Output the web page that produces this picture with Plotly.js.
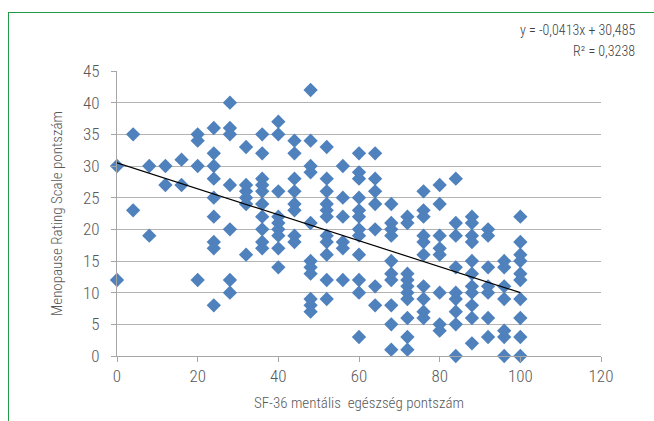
<!DOCTYPE html>
<html>
<head>
<meta charset="utf-8">
<script src="https://cdn.plot.ly/plotly-3.0.1.min.js"></script>
<style>
  html, body { margin: 0; padding: 0; background: #ffffff; }
  #wrap { position: relative; width: 654px; height: 421px; overflow: hidden; }
  #chart { position: absolute; left: 0; top: 0; width: 654px; height: 421px; }
  #frame { position: absolute; left: 8px; top: 12px; width: 700px; height: 500px;
           border-left: 1.5px solid #239a45; border-top: 1.5px solid #239a45; pointer-events: none; }
</style>
</head>
<body>
<div id="wrap">
  <div id="chart"></div>
  <div id="frame"></div>
</div>
<script>
// SF-36 mental health score columns (x) and Menopause Rating Scale scores (y) per column
const xLevels = [0, 4, 8, 12, 16, 20, 24, 28, 32, 36, 40, 44, 48, 52, 56, 60, 64, 68, 72, 76, 80, 84, 88, 92, 96, 100];
const mrsByLevel = [
  [30, 12],
  [35, 23],
  [30, 19],
  [30, 27],
  [31, 27],
  [35, 34, 30, 12],
  [36, 32, 30, 28, 25, 22, 18, 17, 8],
  [40, 36, 35, 27, 20, 12, 10],
  [33, 27, 26, 25, 24, 16],
  [35, 32, 28, 27, 26, 24, 22, 20, 18, 17],
  [37, 35, 26, 22, 21, 20, 19, 17, 14],
  [34, 32, 28, 26, 24, 23, 19, 18],
  [42, 34, 30, 29, 21, 15, 14, 13, 9, 8, 7],
  [33, 28, 26, 24, 23, 22, 19, 18, 16, 12, 9],
  [30, 25, 22, 18, 17, 12],
  [32, 29, 28, 25, 23, 22, 20, 19, 16, 12, 10, 3],
  [32, 28, 26, 24, 20, 11, 8],
  [24, 21, 20, 19, 15, 13, 12, 8, 5, 1],
  [22, 21, 13, 12, 11, 10, 9, 6, 3, 1],
  [26, 23, 22, 19, 18, 16, 11, 9, 7, 6],
  [27, 24, 19, 17, 16, 10, 5, 4],
  [28, 21, 19, 14, 10, 9, 7, 5, 0],
  [22, 21, 19, 18, 15, 13, 11, 10, 8, 6, 2],
  [20, 19, 14, 11, 10, 6, 3],
  [15, 14, 11, 9, 4, 3, 0],
  [22, 18, 16, 15, 13, 12, 9, 6, 3, 0]
];
// Trendline as drawn in the reference
const trendX = [0, 100];
const trendY = [30.5, 10];
const equationText = "y = -0,0413x + 30,485";
const r2Text = "R² = 0,3238";
const xTicks = [0, 20, 40, 60, 80, 100, 120];
const yTicks = [0, 5, 10, 15, 20, 25, 30, 35, 40, 45];
const xTitle = "SF-36 mentális  egészség pontszám";
const yTitle = "Menopause Rating Scale pontszám";

const xs = [], ys = [];
xLevels.forEach((lv, i) => mrsByLevel[i].forEach(v => { xs.push(lv); ys.push(v); }));

const fontFam = "'Roboto Condensed', 'Liberation Sans Narrow', 'DejaVu Sans Condensed', Roboto, sans-serif";
const textColor = "#595959";

const traces = [
  { type: "scatter", mode: "markers", x: xs, y: ys,
    marker: { symbol: "diamond", size: 11, color: "#4f81bd", line: { width: 0 } },
    hoverinfo: "x+y", showlegend: false, cliponaxis: false },
  { type: "scatter", mode: "lines", x: trendX, y: trendY,
    line: { color: "#000000", width: 1.2 }, showlegend: false, hoverinfo: "skip" }
];

const layout = {
  width: 654, height: 421,
  margin: { l: 117, r: 53, t: 71, b: 65, pad: 0 },
  paper_bgcolor: "#ffffff", plot_bgcolor: "#ffffff",
  font: { family: fontFam, color: textColor, size: 15, weight: 300 },
  xaxis: {
    range: [0, 120], tickvals: xTicks, ticktext: xTicks.map(String),
    showgrid: false, zeroline: false,
    showline: true, linecolor: "#a6a6a6", linewidth: 1,
    ticks: "outside", ticklen: 5, tickcolor: "#a6a6a6",
    tickfont: { family: fontFam, size: 17, color: textColor, weight: 300 },
    title: { text: xTitle, font: { family: fontFam, size: 15, color: textColor, weight: 300 }, standoff: 12 },
    fixedrange: true
  },
  yaxis: {
    range: [0, 45], tickvals: yTicks, ticktext: yTicks.map(String),
    showgrid: true, gridcolor: "#b3b3b3", gridwidth: 1,
    zeroline: false,
    showline: true, linecolor: "#a6a6a6", linewidth: 1,
    ticks: "outside", ticklen: 5, tickcolor: "#a6a6a6",
    ticklabelstandoff: 8,
    tickfont: { family: fontFam, size: 17, color: textColor, weight: 300 },
    title: { text: yTitle, font: { family: fontFam, size: 15, color: textColor, weight: 300 }, standoff: 16 },
    fixedrange: true
  },
  annotations: [
    { xref: "paper", yref: "paper", x: 1.0744, y: 1.144, xanchor: "right", yanchor: "middle",
      text: equationText, showarrow: false, font: { family: fontFam, size: 14, color: "#404040", weight: 300 } },
    { xref: "paper", yref: "paper", x: 1.0744, y: 1.070, xanchor: "right", yanchor: "middle",
      text: r2Text, showarrow: false, font: { family: fontFam, size: 14, color: "#404040", weight: 300 } }
  ]
};

Plotly.newPlot("chart", traces, layout, { displayModeBar: false, staticPlot: true });
</script>
</body>
</html>
